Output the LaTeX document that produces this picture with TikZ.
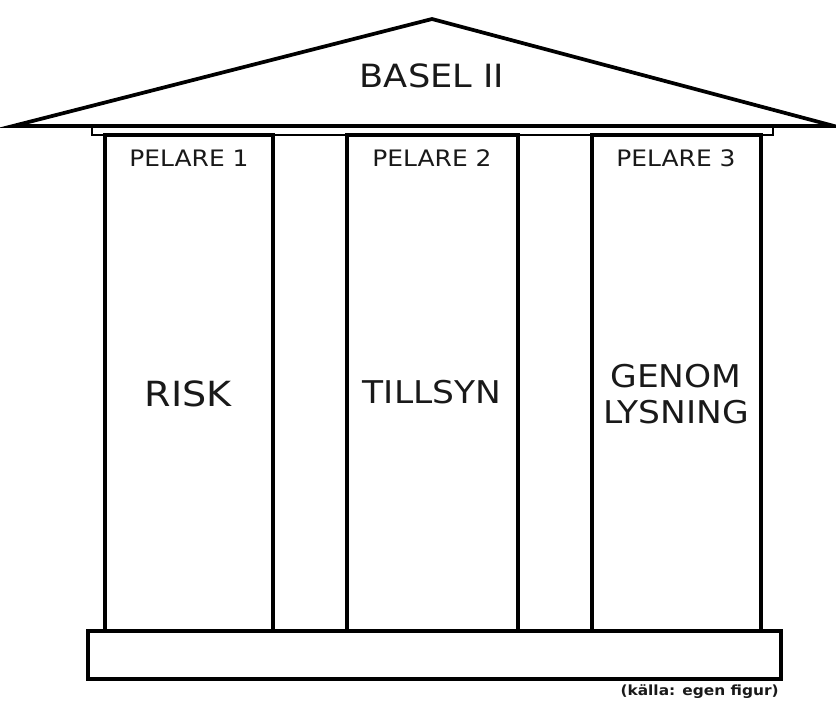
\documentclass[tikz,border=0pt]{standalone}
\usepackage{fontspec}
\setmainfont[FakeStretch=1.1]{DejaVu Sans}
\usepackage{tikz}
\usepackage{xcolor}

\begin{document}
\begin{tikzpicture}[x=0.75pt,y=-0.75pt,
	pillar/.style={line width=2.4pt},
	label/.style={inner sep=0pt,align=center,text=black!90}]
	\useasboundingbox (0,0) rectangle (836,704);
	
	% roof and beam
	\draw[line width=0.9pt] (92,126) rectangle (773,135);
	\draw[line width=2.8pt, line join=miter, fill=white] (13,126) -- (432,19) -- (834,126) -- cycle;
	\node[label, font=\fontsize{24}{28}\selectfont] (basel) at (432,76) {BASEL II};
	
	% pillars
	\draw[pillar] (105,135) rectangle (273,631);
	\draw[pillar] (347,135) rectangle (518,631);
	\draw[pillar] (592,135) rectangle (761,631);
	
	\node[label, font=\fontsize{17}{20}\selectfont] (p1) at (189,158) {PELARE 1};
	\node[label, font=\fontsize{17}{20}\selectfont] (p2) at (432,158) {PELARE 2};
	\node[label, font=\fontsize{17}{20}\selectfont] (p3) at (676,158) {PELARE 3};
	
	\node[label, font=\fontsize{26}{30}\selectfont] (risk) at (188,394) {RISK};
	\node[label, font=\fontsize{23.5}{27}\selectfont] (tillsyn) at (432,392) {TILLSYN};
	\node[label, font=\fontsize{23.5}{27}\selectfont] (genom) at (676,394) {GENOM\\LYSNING};
	
	% base
	\draw[pillar] (88,631) rectangle (781,679);
	\node[label, anchor=east, font=\fontsize{10.5}{12}\selectfont\bfseries] (kalla) at (779,692) {(källa: egen figur)};
\end{tikzpicture}
\end{document}
